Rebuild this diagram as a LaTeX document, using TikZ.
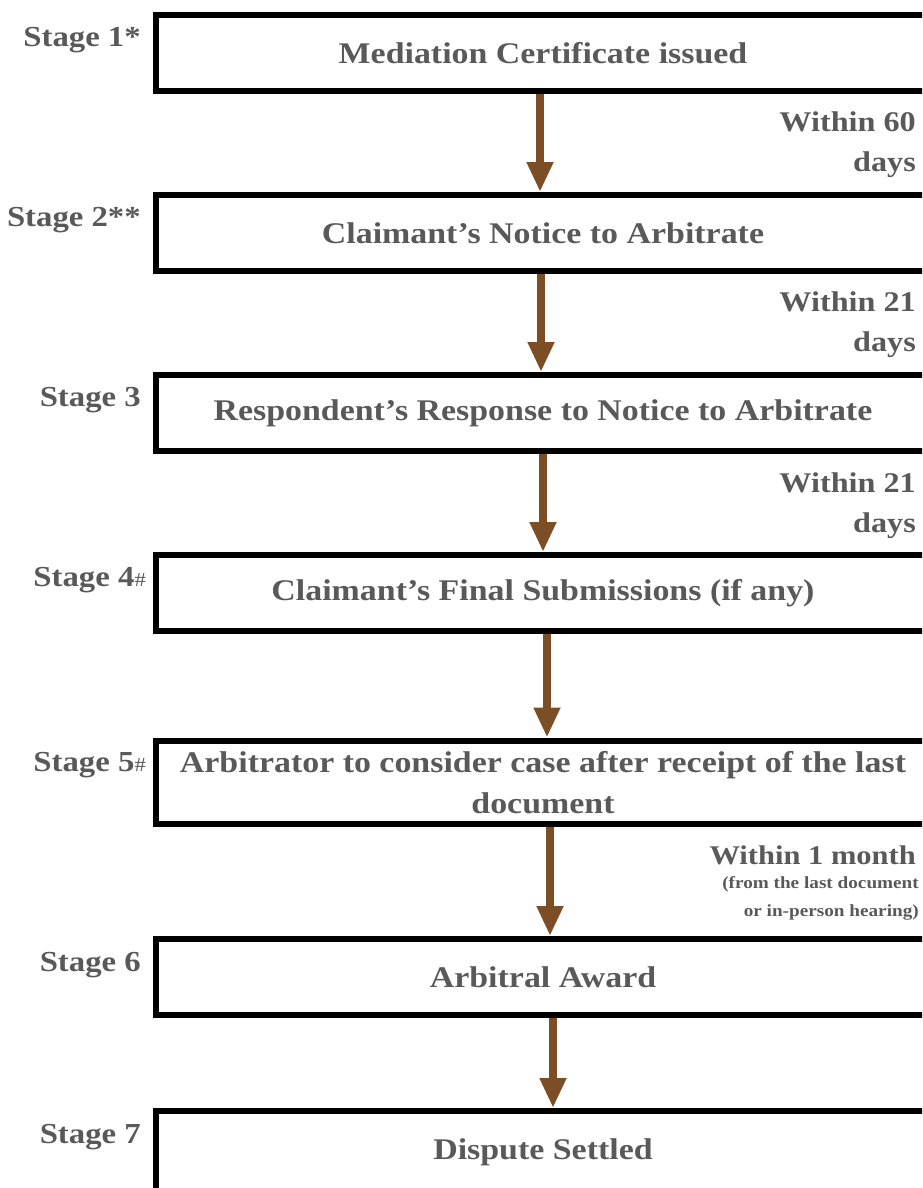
\documentclass[tikz,border=0pt]{standalone}
\usepackage{fontspec}
\setmainfont{Liberation Serif}[FakeStretch=1.13]
\usepackage{tikz}
\usetikzlibrary{arrows.meta}
\definecolor{textgrey}{RGB}{89,89,89}
\definecolor{arrowbrown}{RGB}{124,78,38}
\tikzstyle{stagebox} = [draw=black, line width=6pt, minimum width=775pt, minimum height=76pt, inner sep=0pt, font={\fontsize{30}{41}\selectfont\bfseries}, text=textgrey, align=center]
\tikzstyle{stagelabel} = [anchor=east, inner sep=0pt, font={\fontsize{29}{36}\selectfont\bfseries}, text=textgrey]
\tikzstyle{timing} = [anchor=east, inner sep=0pt, font={\fontsize{28.5}{40}\selectfont\bfseries}, text=textgrey, align=right]
\tikzstyle{flow} = [draw=arrowbrown, line width=8pt, -{Triangle[length=30pt,width=25pt]}]
\newcommand{\hashmark}{{\fontsize{20}{20}\selectfont\mdseries\#}}

\begin{document}
\begin{tikzpicture}[x=1pt,y=-1pt]
        \useasboundingbox (0,0) rectangle (922,1188);
        \clip (0,0) rectangle (922,1188);
        % boxes
        \node[stagebox](b1) at (543,53){Mediation Certificate issued};
        \node[stagebox](b2) at (543,233){Claimant's Notice to Arbitrate};
        \node[stagebox](b3) at (543,413){Respondent's Response to Notice to Arbitrate};
        \node[stagebox](b4) at (543,593){Claimant's Final Submissions (if any)};
        \node[stagebox,minimum height=83pt,text depth=0pt](b5) at (543,782){Arbitrator to consider case after receipt of the last\\document};
        \node[stagebox](b6) at (543,977){Arbitral Award};
        \node[stagebox,minimum height=82pt](b7) at (543,1152){Dispute Settled};
        % stage labels
        \node[stagelabel](s1) at (141,40){Stage 1*};
        \node[stagelabel](s2) at (141,220){Stage 2**};
        \node[stagelabel](s3) at (141,400){Stage 3};
        \node[stagelabel](s4) at (146,580){Stage 4\hashmark};
        \node[stagelabel](s5) at (146,765){Stage 5\hashmark};
        \node[stagelabel](s6) at (141,965){Stage 6};
        \node[stagelabel](s7) at (141,1137){Stage 7};
        % timings
        \node[timing](t1) at (916,145){Within 60\\days};
        \node[timing](t2) at (916,325){Within 21\\days};
        \node[timing](t3) at (916,506){Within 21\\days};
        \node[timing,font={\fontsize{27}{40}\selectfont\bfseries}](t5) at (916,855){Within 1 month};
        \node[timing,anchor=north east,font={\fontsize{17}{28}\selectfont\bfseries}](t5b) at (919,876){(from the last document\\or in-person hearing)};
        % arrows
        \draw[flow]([xshift=-3pt]b1.south)--([xshift=-3pt]b2.north);
        \draw[flow]([xshift=-2pt]b2.south)--([xshift=-2pt]b3.north);
        \draw[flow]([xshift=0pt]b3.south)--([xshift=0pt]b4.north);
        \draw[flow]([xshift=4pt]b4.south)--([xshift=4pt]b5.north);
        \draw[flow]([xshift=7pt]b5.south)--([xshift=7pt]b6.north);
        \draw[flow]([xshift=10pt]b6.south)--([xshift=10pt]b7.north);
      \end{tikzpicture}
\end{document}
